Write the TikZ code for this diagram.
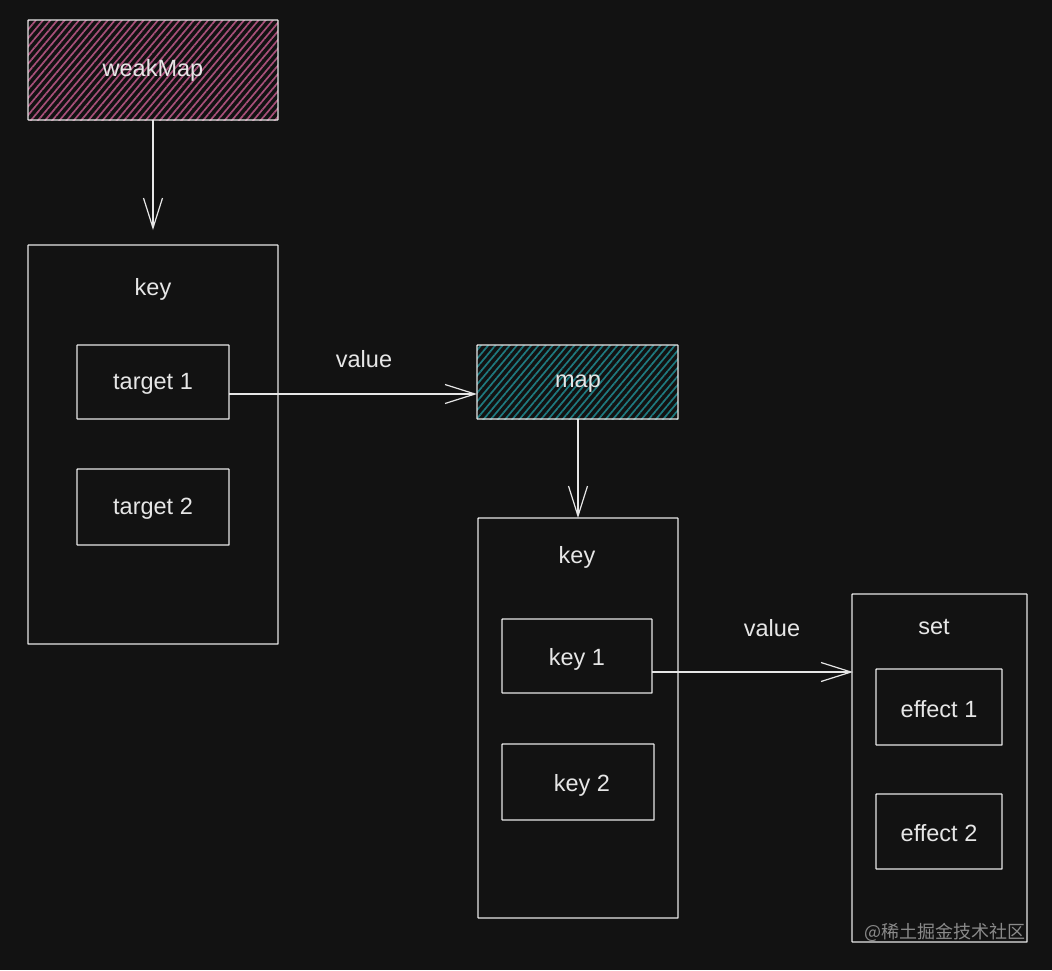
\documentclass[tikz,border=0pt]{standalone}
\usepackage{fontspec}
\setmainfont{Liberation Sans}
\newfontfamily\cjk{Noto Sans CJK SC}
\usetikzlibrary{arrows.meta,patterns.meta}
\definecolor{bgc}{HTML}{121212}
\definecolor{ink}{HTML}{E6E6E6}
\definecolor{pinkh}{HTML}{A8507A}
\definecolor{tealh}{HTML}{1F7A80}
\definecolor{wm}{HTML}{8A8A8A}
\tikzset{
  box/.style={draw=ink, line width=1.4pt, rounded corners=0.5pt},
  lbl/.style={text=ink, font=\fontsize{23.5}{25}\selectfont},
  conn/.style={draw=ink, line width=1.3pt, -{Straight Barb[length=30pt,width=19pt,line width=1.2pt]}},
  pinkfill/.style={pattern={Lines[angle=50,distance=5.5pt,line width=1.7pt]}, pattern color=pinkh},
  tealfill/.style={pattern={Lines[angle=50,distance=5.5pt,line width=1.7pt]}, pattern color=tealh},
}
\begin{document}
\begin{tikzpicture}[x=1pt,y=-1pt]
\fill[bgc] (0,0) rectangle (1052,970);
\useasboundingbox (0,0) rectangle (1052,970);
% weakMap
\path[pinkfill] (28,20) rectangle (278,120);
\draw[box] (28,20) rectangle (278,120);
\node[lbl] (wm) at (153,70) {weakMap};
\coordinate (wmb) at (153,120);
% left container
\draw[box] (28,245) rectangle (278,644);
\coordinate (lct) at (153,230);
\node[lbl] (k1) at (153,289) {key};
\draw[box] (77,345) rectangle (229,419);
\node[lbl] (t1) at (153,384) {target 1};
\coordinate (t1r) at (229,394);
\draw[box] (77,469) rectangle (229,545);
\node[lbl] (t2) at (153,509) {target 2};
% map
\path[tealfill] (477,345) rectangle (678,419);
\draw[box] (477,345) rectangle (678,419);
\node[lbl] (mp) at (578,384) {map};
\coordinate (mpl) at (477,394);
\coordinate (mpb) at (578,419);
\node[lbl] (v1) at (364,359) {value};
% middle container
\draw[box] (478,518) rectangle (678,918);
\coordinate (mct) at (578,518);
\node[lbl] (k2) at (577,557) {key};
\draw[box] (502,619) rectangle (652,693);
\node[lbl] (ky1) at (577,659) {key 1};
\coordinate (ky1r) at (652,672);
\draw[box] (502,744) rectangle (654,820);
\node[lbl] (ky2) at (582,785) {key 2};
\node[lbl] (v2) at (772,628) {value};
% set container
\draw[box] (852,594) rectangle (1027,942);
\coordinate (setl) at (853,672);
\node[lbl] (st) at (934,627) {set};
\draw[box] (876,669) rectangle (1002,745);
\node[lbl] (e1) at (939,709) {effect 1};
\draw[box] (876,794) rectangle (1002,869);
\node[lbl] (e2) at (939,833) {effect 2};
% connectors
\draw[conn] (wmb) -- (lct);
\draw[conn] (t1r) -- (mpl);
\draw[conn] (mpb) -- (mct);
\draw[conn] (ky1r) -- (setl);
% watermark
\node[text=wm, font=\cjk\fontsize{18}{20}\selectfont] (wmk) at (945,932) {@稀土掘金技术社区};
\end{tikzpicture}
\end{document}
